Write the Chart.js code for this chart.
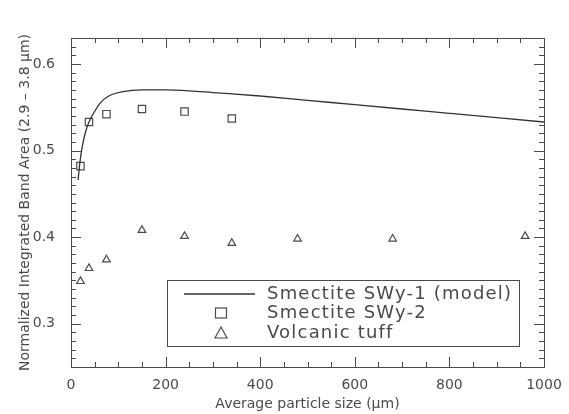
<!DOCTYPE html>
<html>
<head>
<meta charset="utf-8">
<script src="https://cdn.jsdelivr.net/npm/chart.js@4/dist/chart.umd.min.js"></script>
<style>
  html, body { margin: 0; padding: 0; background: #fff; }
  #wrap { width: 569px; height: 414px; }
</style>
</head>
<body>
<div id="wrap"><canvas id="chart" width="569" height="414"></canvas></div>
<script>
// model curve (Smectite SWy-1)
const modelSize = [15, 19, 24, 30, 38, 52, 62, 80, 110, 150, 200, 250, 300, 400, 500, 600, 700, 800, 900, 1000];
const modelArea = [0.466, 0.487, 0.505, 0.520, 0.533, 0.547, 0.555, 0.563, 0.568, 0.570, 0.570, 0.569, 0.567, 0.563, 0.558, 0.553, 0.548, 0.543, 0.538, 0.533];

// measured Smectite SWy-2
const swy2Size = [20, 38, 75, 150, 240, 340];
const swy2Area = [0.482, 0.533, 0.542, 0.548, 0.545, 0.537];

// measured volcanic tuff
const tuffSize = [20, 38, 75, 150, 240, 340, 479, 680, 960];
const tuffArea = [0.349, 0.364, 0.374, 0.408, 0.401, 0.393, 0.398, 0.398, 0.401];

const xTicks = [0, 200, 400, 600, 800, 1000];
const yTicks = [0.3, 0.4, 0.5, 0.6];
const seriesLabels = ['Smectite SWy-1 (model)', 'Smectite SWy-2', 'Volcanic tuff'];

const toPoints = (xs, ys) => xs.map((x, i) => ({ x: x, y: ys[i] }));

const INK = '#4a4a4a';
const FONT = '"DejaVu Sans", sans-serif';

// IDL-style box with inward ticks, plus the boxed legend
const frame = {
    id: 'frame',
    afterDraw(chart) {
        const { ctx, chartArea: a, scales } = chart;
        const xs = scales.x, ys = scales.y;
        ctx.save();
        ctx.strokeStyle = INK;
        ctx.lineWidth = 1;
        ctx.strokeRect(Math.round(a.left) + 0.5, Math.round(a.top) + 0.5,
            Math.round(a.right - a.left), Math.round(a.bottom - a.top));

        ctx.beginPath();
        for (let v = 0; v <= 1000; v += 50) {
            const px = Math.round(xs.getPixelForValue(v)) + 0.5;
            const len = v % 200 === 0 ? 10 : 5;
            ctx.moveTo(px, a.bottom); ctx.lineTo(px, a.bottom - len);
            ctx.moveTo(px, a.top); ctx.lineTo(px, a.top + len);
        }
        for (let k = 25; k <= 63; k++) {
            const v = k / 100;
            const py = Math.round(ys.getPixelForValue(v)) + 0.5;
            const len = k % 10 === 0 ? 10 : 5;
            ctx.moveTo(a.left, py); ctx.lineTo(a.left + len, py);
            ctx.moveTo(a.right, py); ctx.lineTo(a.right - len, py);
        }
        ctx.stroke();

        // legend
        const bx = 167, by = 280, bw = 352, bh = 66;
        ctx.fillStyle = '#fff';
        ctx.fillRect(bx, by, bw, bh);
        ctx.strokeRect(bx + 0.5, by + 0.5, bw, bh);
        const rows = [294, 313, 333];
        const sx = 221;
        const ds = chart.data.datasets;
        // line sample
        ctx.strokeStyle = '#333';
        ctx.lineWidth = 1.3;
        ctx.beginPath();
        ctx.moveTo(184, rows[0]); ctx.lineTo(255, rows[0]);
        ctx.stroke();
        // square
        ctx.strokeStyle = INK;
        ctx.lineWidth = 1.2;
        ctx.strokeRect(sx - 5.5, rows[1] - 5, 11, 10);
        // triangle
        ctx.beginPath();
        ctx.moveTo(sx, rows[2] - 6);
        ctx.lineTo(sx + 6, rows[2] + 5);
        ctx.lineTo(sx - 6, rows[2] + 5);
        ctx.closePath();
        ctx.stroke();

        ctx.fillStyle = INK;
        ctx.font = '18px ' + FONT;
        ctx.letterSpacing = '1.2px';
        ctx.textBaseline = 'middle';
        ctx.textAlign = 'left';
        ds.forEach((d, i) => ctx.fillText(d.label, 267, rows[i]));
        ctx.restore();
    }
};

new Chart(document.getElementById('chart'), {
    type: 'scatter',
    data: {
        datasets: [{
            label: seriesLabels[0],
            data: toPoints(modelSize, modelArea),
            showLine: true,
            borderColor: '#333',
            borderWidth: 1.3,
            pointRadius: 0,
            cubicInterpolationMode: 'monotone'
        }, {
            label: seriesLabels[1],
            data: toPoints(swy2Size, swy2Area),
            pointStyle: 'rect',
            pointRadius: 5.2,
            pointBorderWidth: 1.2,
            borderColor: INK,
            backgroundColor: 'rgba(0,0,0,0)'
        }, {
            label: seriesLabels[2],
            data: toPoints(tuffSize, tuffArea),
            pointStyle: 'triangle',
            pointRadius: 4.4,
            pointBorderWidth: 1.2,
            borderColor: INK,
            backgroundColor: 'rgba(0,0,0,0)'
        }]
    },
    options: {
        responsive: false,
        animation: false,
        layout: { padding: { top: 38, right: 25, left: 0, bottom: 0 } },
        plugins: { legend: { display: false }, tooltip: { enabled: false } },
        scales: {
            x: {
                type: 'linear',
                min: 0, max: 1000,
                afterFit: s => { s.height = 47; },
                afterBuildTicks: s => { s.ticks = xTicks.map(v => ({ value: v })); },
                grid: { display: false },
                border: { display: false },
                ticks: { color: INK, font: { family: FONT, size: 14 }, padding: 2, maxRotation: 0, callback: v => String(v) },
                title: {
                    display: true,
                    text: 'Average particle size (μm)',
                    color: INK,
                    font: { family: FONT, size: 14 },
                    padding: { top: 0, bottom: 1 }
                }
            },
            y: {
                min: 0.25, max: 0.63,
                afterFit: s => { s.width = 71; },
                afterBuildTicks: s => { s.ticks = yTicks.map(v => ({ value: v })); },
                grid: { display: false },
                border: { display: false },
                ticks: { color: INK, font: { family: FONT, size: 14 }, padding: 8, callback: v => v.toFixed(1) },
                title: {
                    display: true,
                    text: 'Normalized Integrated Band Area (2.9 – 3.8 μm)',
                    color: INK,
                    font: { family: FONT, size: 14 },
                    padding: { top: 17, bottom: 0 }
                }
            }
        }
    },
    plugins: [frame]
});
</script>
</body>
</html>
